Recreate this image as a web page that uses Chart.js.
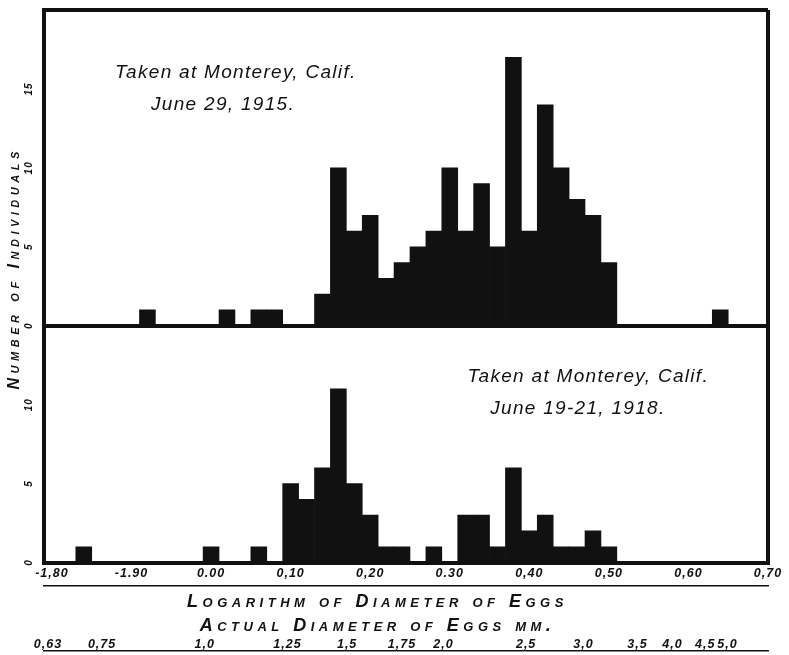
<!DOCTYPE html>
<html>
<head>
<meta charset="utf-8">
<title>Diameter of eggs - Monterey 1915 / 1918</title>
<script src="https://cdn.jsdelivr.net/npm/chart.js@4.4.1/dist/chart.umd.min.js"></script>
<style>
  html, body { margin: 0; padding: 0; background: #fff; }
  canvas { display: block; }
</style>
</head>
<body>
<canvas id="eggChart" width="789" height="655"></canvas>
<script>
// bin centres = log10 of egg diameter, each bin is 0.02 wide
const binCenters = [-0.20, -0.18, -0.16, -0.14, -0.12, -0.10, -0.08, -0.06, -0.04, -0.02,
                     0.00,  0.02,  0.04,  0.06,  0.08,  0.10,  0.12,  0.14,  0.16,  0.18,
                     0.20,  0.22,  0.24,  0.26,  0.28,  0.30,  0.32,  0.34,  0.36,  0.38,
                     0.40,  0.42,  0.44,  0.46,  0.48,  0.50,  0.52,  0.54,  0.56,  0.58,
                     0.60,  0.62,  0.64,  0.66,  0.68];

// June 29, 1915
const counts1915 = [0, 0, 0, 0, 0, 0, 1, 0, 0, 0,
                    0, 1, 0, 1, 1, 0, 0, 2, 10, 6,
                    7, 3, 4, 5, 6, 10, 6, 9, 5, 17,
                    6, 14, 10, 8, 7, 4, 0, 0, 0, 0,
                    0, 0, 1, 0, 0];

// June 19-21, 1918
const counts1918 = [0, 0, 1, 0, 0, 0, 0, 0, 0, 0,
                    1, 0, 0, 1, 0, 5, 4, 6, 11, 5,
                    3, 1, 1, 0, 1, 0, 3, 3, 1, 6,
                    2, 3, 1, 1, 2, 1, 0, 0, 0, 0,
                    0, 0, 0, 0, 0];

const logTicks = [-0.20, -0.10, 0.00, 0.10, 0.20, 0.30, 0.40, 0.50, 0.60, 0.70];
const logTickLabels = ['-1,80', '-1.90', '0.00', '0,10', '0,20', '0.30', '0,40', '0,50', '0,60', '0,70'];

// actual diameter (mm) scale printed under the log scale
const mmTickLabels = ['0,63', '0,75', '1,0', '1,25', '1,5', '1,75', '2,0', '2,5', '3,0', '3,5', '4,0', '4,5', '5,0'];
const mmTickPos = [-0.205, -0.137, -0.008, 0.096, 0.171, 0.240, 0.292, 0.396, 0.468, 0.536, 0.580, 0.621, 0.649];

const notes = [
    { text: 'Taken at Monterey, Calif.', x: 0.031, y: 16.0, axis: 'yTop' },
    { text: 'June 29, 1915.', x: 0.015, y: 14.0, axis: 'yTop' },
    { text: 'Taken at Monterey, Calif.', x: 0.474, y: 11.76, axis: 'yBot' },
    { text: 'June 19-21, 1918.', x: 0.461, y: 9.75, axis: 'yBot' }
];

const INK = '#111';
const NONE = 'rgba(0,0,0,0)';
const FAM = "'Liberation Sans', 'DejaVu Sans', sans-serif";
const X_MIN = -0.21, X_MAX = 0.70;

Chart.defaults.font.family = FAM;
Chart.defaults.color = INK;

// hand lettering: wide spacing for axis titles, tighter for tick numbers
// (tick labels sit on z 1, so they are drawn after the datasets)
const spacing = {
    id: 'spacing',
    beforeDraw(chart) {
        chart.ctx.letterSpacing = '4.5px';
    },
    beforeDatasetsDraw(chart) {
        chart.ctx.letterSpacing = '1px';
    }
};

// the two "Taken at Monterey" captions
const panelNotes = {
    id: 'panelNotes',
    afterDraw(chart) {
        const { ctx, scales } = chart;
        ctx.save();
        ctx.letterSpacing = '1.3px';
        ctx.font = 'italic 19px ' + FAM;
        ctx.fillStyle = INK;
        ctx.textAlign = 'center';
        ctx.textBaseline = 'middle';
        notes.forEach(n => {
            ctx.fillText(n.text, scales.x.getPixelForValue(n.x), scales[n.axis].getPixelForValue(n.y));
        });
        ctx.restore();
    }
};

const letterFont = (size, extra) => Object.assign({ size: size, style: 'italic', weight: 'small-caps bold', family: FAM }, extra || {});
const tickFont = (size, lh) => ({ size: size, style: 'italic', weight: 'bold', family: FAM, lineHeight: lh || 1.2 });

new Chart(document.getElementById('eggChart'), {
    type: 'bar',
    data: {
        datasets: [
            {
                label: 'June 29, 1915',
                data: binCenters.map((x, i) => ({ x: x, y: counts1915[i] })),
                yAxisID: 'yTop',
                backgroundColor: INK,
                borderWidth: 0,
                categoryPercentage: 1,
                barPercentage: 1
            },
            {
                label: 'June 19-21, 1918',
                data: binCenters.map((x, i) => ({ x: x, y: counts1918[i] })),
                yAxisID: 'yBot',
                backgroundColor: INK,
                borderWidth: 0,
                categoryPercentage: 1,
                barPercentage: 1
            }
        ]
    },
    options: {
        responsive: false,
        animation: false,
        devicePixelRatio: 1,
        layout: { padding: { top: 8, right: 21, bottom: 4, left: 0 } },
        plugins: {
            legend: { display: false },
            tooltip: { enabled: false }
        },
        scales: {
            x: {
                type: 'linear',
                position: 'bottom',
                min: X_MIN,
                max: X_MAX,
                offset: false,
                stacked: true,
                weight: 0,
                afterBuildTicks: scale => { scale.ticks = logTicks.map(v => ({ value: v })); },
                ticks: {
                    callback: (v, i) => logTickLabels[i],
                    font: tickFont(12.5),
                    color: INK,
                    padding: 4,
                    autoSkip: false,
                    maxRotation: 0,
                    z: 1
                },
                grid: {
                    offset: false,
                    drawTicks: false,
                    color: c => (c.tick && c.tick.value === X_MAX) ? INK : NONE,
                    lineWidth: 4
                },
                border: { color: INK, width: 4 }
            },
            xRule: {
                type: 'linear',
                position: 'bottom',
                min: X_MIN,
                max: X_MAX,
                offset: false,
                weight: 1,
                ticks: { display: false },
                grid: { display: false, drawTicks: false },
                border: { color: INK, width: 1.5 },
                title: {
                    display: true,
                    text: ['Logarithm of Diameter of Eggs      ', 'Actual Diameter of Eggs mm.      '],
                    font: letterFont(18, { lineHeight: '24px' }),
                    color: INK,
                    padding: { top: 5, bottom: 0 }
                }
            },
            x2: {
                type: 'linear',
                position: 'bottom',
                min: X_MIN,
                max: X_MAX,
                offset: false,
                weight: 2,
                afterBuildTicks: scale => { scale.ticks = mmTickPos.map(v => ({ value: v })); },
                ticks: {
                    callback: (v, i) => mmTickLabels[i],
                    font: tickFont(12.5, 1),
                    color: INK,
                    padding: 0,
                    autoSkip: false,
                    maxRotation: 0,
                    z: 1
                },
                grid: { display: false, drawTicks: false },
                border: { display: false }
            },
            x3: {
                type: 'linear',
                position: 'bottom',
                min: X_MIN,
                max: X_MAX,
                offset: false,
                weight: 3,
                ticks: { display: false },
                grid: { display: false, drawTicks: false },
                border: { color: INK, width: 1.5 }
            },
            // lower panel first: stacked left axes are laid out from the last one defined
            yBot: {
                type: 'linear',
                position: 'left',
                stack: 'panels',
                stackWeight: 15,
                min: 0,
                max: 15,
                weight: 0,
                ticks: {
                    stepSize: 5,
                    callback: v => (v === 15 ? '' : v),
                    font: tickFont(10, 0.1),
                    color: INK,
                    minRotation: 90,
                    maxRotation: 90,
                    crossAlign: 'center',
                    padding: 9.5,
                    z: 1
                },
                grid: { display: false, drawTicks: false },
                border: { color: INK, width: 4 }
            },
            yTop: {
                type: 'linear',
                position: 'left',
                stack: 'panels',
                stackWeight: 20,
                min: 0,
                max: 20,
                weight: 0,
                ticks: {
                    stepSize: 5,
                    callback: v => (v === 20 ? '' : v),
                    font: tickFont(10, 0.1),
                    color: INK,
                    minRotation: 90,
                    maxRotation: 90,
                    crossAlign: 'center',
                    padding: 9.5,
                    z: 1
                },
                grid: {
                    drawTicks: false,
                    color: c => (c.tick && (c.tick.value === 0 || c.tick.value === 20)) ? INK : NONE,
                    lineWidth: 4
                },
                border: { color: INK, width: 4 }
            },
            yTitle: {
                type: 'linear',
                position: 'left',
                weight: 1,
                ticks: { display: false },
                grid: { display: false, drawTicks: false },
                border: { display: false },
                title: {
                    display: true,
                    text: '    Number of Individuals',
                    font: letterFont(16, { lineHeight: 1 }),
                    color: INK,
                    padding: { top: 7, bottom: 1 }
                }
            }
        }
    },
    plugins: [spacing, panelNotes]
});
</script>
</body>
</html>
